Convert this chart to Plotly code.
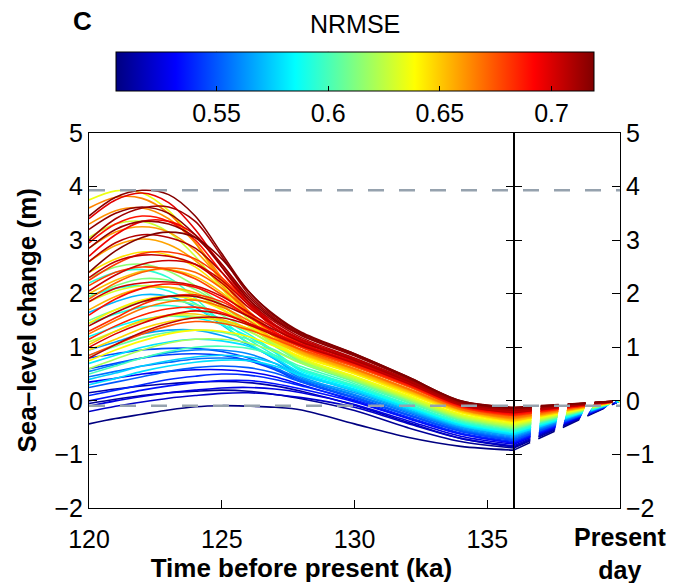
import plotly.graph_objects as go

# ---------------- data ----------------
KA = [120, 121, 122, 123, 124, 125, 126, 127, 128, 130, 132, 134, 136]
PRESENT_LEVEL = 0.0          # sea level at present day (reference)
NRMSE_RANGE = [0.505, 0.719]
NRMSE_TICKS = [0.55, 0.6, 0.65, 0.7]
Y_TICKS = [-2, -1, 0, 1, 2, 3, 4, 5]
X_TICKS = [120, 125, 130, 135]

darkred_nrmse = [0.718, 0.712, 0.715, 0.708, 0.705, 0.702, 0.710, 0.700, 0.716, 0.719, 0.706, 0.703]
darkred_curves = [
    [3.45, 3.80, 3.93, 3.85, 3.45, 2.75, 2.05, 1.60, 1.28, 0.88, 0.45, 0.00, -0.13],
    [3.00, 3.40, 3.60, 3.62, 3.35, 2.70, 2.00, 1.55, 1.24, 0.85, 0.43, -0.02, -0.15],
    [2.85, 3.20, 3.35, 3.30, 3.05, 2.55, 1.95, 1.52, 1.22, 0.84, 0.42, -0.02, -0.14],
    [2.60, 2.95, 3.10, 3.05, 2.85, 2.40, 1.85, 1.47, 1.18, 0.80, 0.40, -0.04, -0.17],
    [2.30, 2.60, 2.72, 2.70, 2.55, 2.20, 1.75, 1.40, 1.14, 0.78, 0.38, -0.05, -0.19],
    [1.85, 2.10, 2.20, 2.22, 2.15, 1.95, 1.65, 1.35, 1.10, 0.75, 0.36, -0.06, -0.20],
    [1.40, 1.65, 1.85, 1.95, 1.95, 1.80, 1.58, 1.32, 1.10, 0.76, 0.37, -0.05, -0.18],
    [1.00, 1.25, 1.45, 1.60, 1.68, 1.62, 1.45, 1.25, 1.05, 0.72, 0.35, -0.07, -0.21],
    [3.20, 3.50, 3.62, 3.50, 3.10, 2.50, 1.90, 1.50, 1.22, 0.86, 0.44, -0.01, -0.14],
    [2.40, 2.80, 3.05, 3.15, 3.05, 2.65, 2.05, 1.58, 1.26, 0.88, 0.45, 0.00, -0.12],
    [0.80, 1.05, 1.28, 1.45, 1.55, 1.55, 1.42, 1.22, 1.03, 0.70, 0.33, -0.08, -0.22],
    [2.05, 2.35, 2.55, 2.62, 2.55, 2.25, 1.80, 1.42, 1.15, 0.78, 0.38, -0.05, -0.19],
]

red_nrmse = [0.695, 0.690, 0.685, 0.680, 0.675, 0.672, 0.698, 0.688, 0.683, 0.678]
red_curves = [
    [2.70, 3.10, 3.35, 3.35, 3.10, 2.55, 1.90, 1.42, 1.12, 0.74, 0.35, -0.07, -0.22],
    [1.60, 1.90, 2.10, 2.18, 2.12, 1.90, 1.58, 1.28, 1.05, 0.70, 0.32, -0.09, -0.24],
    [1.15, 1.40, 1.60, 1.72, 1.75, 1.65, 1.45, 1.22, 1.00, 0.67, 0.30, -0.10, -0.26],
    [2.25, 2.55, 2.75, 2.78, 2.65, 2.30, 1.80, 1.35, 1.05, 0.68, 0.30, -0.11, -0.27],
    [0.85, 1.05, 1.25, 1.40, 1.48, 1.45, 1.33, 1.15, 0.96, 0.64, 0.28, -0.12, -0.28],
    [1.90, 2.20, 2.40, 2.48, 2.40, 2.10, 1.68, 1.28, 1.00, 0.64, 0.27, -0.13, -0.29],
    [3.40, 3.75, 3.88, 3.70, 3.20, 2.50, 1.85, 1.40, 1.12, 0.75, 0.36, -0.06, -0.21],
    [2.95, 3.30, 3.45, 3.35, 3.00, 2.40, 1.80, 1.36, 1.08, 0.71, 0.33, -0.09, -0.24],
    [1.30, 1.55, 1.80, 1.95, 1.98, 1.85, 1.58, 1.28, 1.02, 0.67, 0.29, -0.11, -0.26],
    [2.15, 2.40, 2.50, 2.45, 2.28, 1.98, 1.62, 1.28, 1.02, 0.66, 0.29, -0.12, -0.27],
]

orange_nrmse = [0.665, 0.660, 0.655, 0.650, 0.645, 0.640, 0.668, 0.662, 0.652, 0.642, 0.648, 0.658]
orange_curves = [
    [3.60, 3.80, 3.78, 3.50, 2.95, 2.25, 1.65, 1.22, 0.95, 0.60, 0.23, -0.15, -0.32],
    [2.85, 3.15, 3.25, 3.15, 2.80, 2.25, 1.65, 1.22, 0.94, 0.59, 0.22, -0.16, -0.33],
    [1.70, 1.95, 2.10, 2.12, 2.02, 1.78, 1.45, 1.15, 0.90, 0.56, 0.20, -0.17, -0.35],
    [1.05, 1.30, 1.50, 1.60, 1.62, 1.52, 1.35, 1.10, 0.88, 0.54, 0.18, -0.19, -0.37],
    [2.40, 2.65, 2.78, 2.72, 2.50, 2.10, 1.62, 1.18, 0.88, 0.53, 0.16, -0.20, -0.38],
    [0.75, 0.95, 1.12, 1.25, 1.32, 1.30, 1.20, 1.02, 0.82, 0.50, 0.13, -0.22, -0.40],
    [1.25, 1.50, 1.72, 1.85, 1.88, 1.75, 1.50, 1.20, 0.95, 0.60, 0.23, -0.15, -0.31],
    [3.30, 3.55, 3.60, 3.40, 2.95, 2.30, 1.68, 1.23, 0.95, 0.60, 0.22, -0.16, -0.33],
    [2.00, 2.25, 2.42, 2.45, 2.32, 2.02, 1.60, 1.20, 0.90, 0.55, 0.19, -0.18, -0.36],
    [1.45, 1.70, 1.88, 1.95, 1.90, 1.70, 1.42, 1.12, 0.85, 0.51, 0.15, -0.21, -0.39],
    [0.95, 1.15, 1.35, 1.48, 1.55, 1.50, 1.35, 1.12, 0.88, 0.54, 0.17, -0.19, -0.37],
    [2.60, 2.90, 3.02, 2.92, 2.62, 2.15, 1.62, 1.20, 0.92, 0.58, 0.21, -0.16, -0.34],
]

green_nrmse = [0.635, 0.630, 0.625, 0.620, 0.615, 0.610, 0.605, 0.600, 0.628, 0.612]
green_curves = [
    [3.75, 3.92, 3.88, 3.55, 2.95, 2.20, 1.58, 1.12, 0.80, 0.46, 0.10, -0.25, -0.42],
    [1.85, 2.05, 2.15, 2.12, 1.98, 1.72, 1.40, 1.08, 0.78, 0.44, 0.08, -0.27, -0.44],
    [1.10, 1.30, 1.48, 1.58, 1.58, 1.48, 1.30, 1.05, 0.76, 0.42, 0.06, -0.29, -0.46],
    [0.60, 0.78, 0.95, 1.08, 1.15, 1.15, 1.08, 0.92, 0.70, 0.39, 0.04, -0.31, -0.48],
    [2.30, 2.50, 2.55, 2.42, 2.15, 1.80, 1.42, 1.05, 0.74, 0.40, 0.04, -0.31, -0.49],
    [1.50, 1.70, 1.85, 1.88, 1.80, 1.60, 1.32, 1.02, 0.72, 0.37, 0.01, -0.34, -0.51],
    [0.85, 1.02, 1.18, 1.28, 1.32, 1.28, 1.15, 0.95, 0.70, 0.35, -0.01, -0.35, -0.52],
    [0.50, 0.65, 0.80, 0.92, 1.00, 1.02, 0.98, 0.85, 0.64, 0.32, -0.03, -0.37, -0.54],
    [3.05, 3.30, 3.35, 3.15, 2.70, 2.10, 1.52, 1.10, 0.78, 0.44, 0.08, -0.27, -0.44],
    [1.95, 2.15, 2.28, 2.25, 2.08, 1.78, 1.42, 1.05, 0.74, 0.38, 0.02, -0.33, -0.50],
]

cyan_nrmse = [0.595, 0.590, 0.585, 0.580, 0.575, 0.570, 0.565, 0.560, 0.592, 0.578]
cyan_curves = [
    [2.20, 2.40, 2.45, 2.30, 1.92, 1.45, 1.08, 0.82, 0.60, 0.29, -0.06, -0.39, -0.56],
    [1.95, 2.10, 2.15, 2.05, 1.82, 1.50, 1.15, 0.85, 0.58, 0.27, -0.08, -0.41, -0.58],
    [1.20, 1.38, 1.52, 1.58, 1.55, 1.42, 1.20, 0.90, 0.55, 0.25, -0.10, -0.42, -0.59],
    [0.70, 0.85, 1.00, 1.10, 1.15, 1.12, 1.02, 0.80, 0.52, 0.22, -0.12, -0.44, -0.61],
    [0.40, 0.52, 0.65, 0.75, 0.82, 0.85, 0.82, 0.70, 0.48, 0.20, -0.14, -0.46, -0.63],
    [1.65, 1.85, 1.98, 1.95, 1.75, 1.42, 1.08, 0.78, 0.50, 0.18, -0.16, -0.47, -0.64],
    [0.95, 1.10, 1.25, 1.32, 1.32, 1.22, 1.05, 0.78, 0.45, 0.15, -0.18, -0.49, -0.66],
    [0.55, 0.68, 0.80, 0.90, 0.95, 0.95, 0.88, 0.70, 0.42, 0.12, -0.20, -0.51, -0.68],
    [1.45, 1.62, 1.75, 1.78, 1.70, 1.52, 1.25, 0.92, 0.58, 0.27, -0.08, -0.40, -0.57],
    [0.30, 0.42, 0.55, 0.65, 0.72, 0.76, 0.75, 0.65, 0.47, 0.20, -0.13, -0.45, -0.62],
]

blue_nrmse = [0.555, 0.550, 0.545, 0.540, 0.535, 0.530, 0.525, 0.520, 0.515, 0.510, 0.505, 0.548]
blue_curves = [
    [0.45, 0.55, 0.65, 0.72, 0.78, 0.80, 0.76, 0.62, 0.40, 0.10, -0.22, -0.53, -0.70],
    [0.25, 0.35, 0.45, 0.55, 0.62, 0.65, 0.62, 0.52, 0.35, 0.07, -0.25, -0.55, -0.72],
    [0.60, 0.70, 0.80, 0.86, 0.88, 0.85, 0.75, 0.58, 0.35, 0.05, -0.27, -0.57, -0.74],
    [0.10, 0.20, 0.30, 0.40, 0.46, 0.50, 0.48, 0.40, 0.28, 0.02, -0.30, -0.60, -0.76],
    [0.00, 0.10, 0.20, 0.28, 0.34, 0.38, 0.38, 0.32, 0.22, -0.02, -0.33, -0.62, -0.78],
    [0.35, 0.42, 0.50, 0.55, 0.58, 0.58, 0.54, 0.45, 0.30, 0.00, -0.32, -0.62, -0.79],
    [-0.10, 0.00, 0.08, 0.15, 0.20, 0.24, 0.25, 0.22, 0.15, -0.07, -0.37, -0.66, -0.81],
    [-0.20, -0.10, -0.02, 0.05, 0.10, 0.14, 0.15, 0.12, 0.06, -0.12, -0.42, -0.70, -0.84],
    [0.15, 0.22, 0.28, 0.32, 0.35, 0.36, 0.34, 0.28, 0.18, -0.08, -0.40, -0.70, -0.86],
    [-0.05, 0.03, 0.10, 0.15, 0.18, 0.20, 0.18, 0.12, 0.04, -0.18, -0.50, -0.76, -0.88],
    [-0.43, -0.33, -0.25, -0.17, -0.11, -0.09, -0.10, -0.12, -0.17, -0.43, -0.68, -0.85, -0.92],
    [0.80, 0.88, 0.95, 0.98, 0.98, 0.92, 0.80, 0.60, 0.38, 0.06, -0.26, -0.56, -0.73],
]

# ---------------- styling helpers ----------------
FONT = "Liberation Sans, Arial, Helvetica, sans-serif"
PRESENT_X = 140      # axis position used for the "Present day" column
W, H = 675, 583
ML, MR, MT, MB = 89, 55, 133, 71
PLOT_W, PLOT_H = W - ML - MR, H - MT - MB
CB_CENTER_PX, CB_LEN_PX, CB_THICK_PX, CB_TOP_PX = 355, 478, 39, 51


def jet(t):
    t = min(max(t, 0.0), 1.0)
    c = lambda v: min(max(v, 0.0), 1.0)
    r = c(1.5 - abs(4 * t - 3))
    g = c(1.5 - abs(4 * t - 2))
    b = c(1.5 - abs(4 * t - 1))
    return "rgb(%d,%d,%d)" % (round(r * 255), round(g * 255), round(b * 255))


JET_SCALE = [[s, jet(s)] for s in [0, 0.125, 0.375, 0.5, 0.625, 0.875, 1]]

all_nrmse = darkred_nrmse + red_nrmse + orange_nrmse + green_nrmse + cyan_nrmse + blue_nrmse
all_curves = darkred_curves + red_curves + orange_curves + green_curves + cyan_curves + blue_curves
order = sorted(range(len(all_nrmse)), key=lambda i: all_nrmse[i])

fig = go.Figure()

for i in order:
    t = (all_nrmse[i] - NRMSE_RANGE[0]) / (NRMSE_RANGE[1] - NRMSE_RANGE[0])
    col = jet(t)
    y = all_curves[i]
    fig.add_trace(go.Scatter(x=KA, y=y, mode="lines",
                             line=dict(color=col, width=1.6, shape="spline", smoothing=0.9),
                             hoverinfo="skip", xaxis="x", yaxis="y"))
    fig.add_trace(go.Scatter(x=[KA[-1], PRESENT_X], y=[y[-1], PRESENT_LEVEL], mode="lines",
                             line=dict(color=col, width=1.6, dash="18px,9px"),
                             hoverinfo="skip", xaxis="x2", yaxis="y2"))

# invisible markers carrying the colour scale (for the colorbar)
fig.add_trace(go.Scatter(x=[c[0] for c in all_curves], y=[c[0] for c in all_curves], mode="markers",
                         marker=dict(color=all_nrmse, coloraxis="coloraxis", size=1, opacity=0),
                         hoverinfo="skip", xaxis="x", yaxis="y"))

# reference lines: highest peak and lowest peak of the ensemble
top_peak = max(max(c) for c in all_curves)
low_peak = min(max(c) for c in all_curves)
for yv in (top_peak, low_peak):
    fig.add_shape(type="line", xref="paper", yref="y", x0=0, x1=1, y0=yv, y1=yv,
                  line=dict(color="rgb(150,162,174)", width=2.4, dash="16px,15px"), layer="above")

# colorbar geometry in paper units
cb_x = (CB_CENTER_PX - ML) / PLOT_W
cb_top = (H - MB - CB_TOP_PX) / PLOT_H
cb_left_px = CB_CENTER_PX - CB_LEN_PX / 2
# small tick marks along the top edge of the colorbar (mirrored ticks)
for v in NRMSE_TICKS:
    px = cb_left_px + (v - NRMSE_RANGE[0]) / (NRMSE_RANGE[1] - NRMSE_RANGE[0]) * CB_LEN_PX
    xp = (px - ML) / PLOT_W
    fig.add_shape(type="line", xref="paper", yref="paper", x0=xp, x1=xp,
                  y0=cb_top, y1=cb_top - 5 / PLOT_H, line=dict(color="black", width=1))

axis_common = dict(showgrid=False, zeroline=False, showline=True, linecolor="black", linewidth=1,
                   tickcolor="black", ticklen=8, tickwidth=1)

fig.update_layout(
    width=W, height=H,
    margin=dict(l=ML, r=MR, t=MT, b=MB),
    paper_bgcolor="white", plot_bgcolor="white",
    showlegend=False,
    font=dict(family=FONT, size=25, color="black"),
    xaxis=dict(domain=[0, 0.8], range=[KA[0], KA[-1]], tickvals=X_TICKS, ticks="inside",
               mirror=True, anchor="y", ticklabelstandoff=9,
               title=dict(text="<b>Time before present (ka)</b>", font=dict(size=26), standoff=0),
               **axis_common),
    yaxis=dict(domain=[0, 1], range=[Y_TICKS[0], Y_TICKS[-1]], tickvals=Y_TICKS, ticks="inside",
               mirror="ticks", anchor="x", **axis_common),
    xaxis2=dict(domain=[0.8, 1], range=[KA[-1], PRESENT_X], showticklabels=False, ticks="",
                mirror=True, anchor="y2", **axis_common),
    yaxis2=dict(domain=[0, 1], range=[Y_TICKS[0], Y_TICKS[-1]], tickvals=Y_TICKS, ticks="inside",
                side="right", mirror="ticks", anchor="x2", **axis_common),
    coloraxis=dict(cmin=NRMSE_RANGE[0], cmax=NRMSE_RANGE[1], colorscale=JET_SCALE,
                   colorbar=dict(orientation="h", xref="paper", yref="paper",
                                 x=cb_x, xanchor="center", y=cb_top, yanchor="top",
                                 lenmode="pixels", len=CB_LEN_PX, thickness=CB_THICK_PX,
                                 xpad=0, ypad=0, outlinewidth=1, outlinecolor="black",
                                 tickvals=NRMSE_TICKS, ticktext=["0.55", "0.6", "0.65", "0.7"],
                                 ticks="inside", ticklen=5, tickcolor="black",
                                 tickfont=dict(size=25))),
    annotations=[
        dict(text="<b>C</b>", xref="paper", yref="paper", x=-0.0113, y=1.298,
             xanchor="center", yanchor="middle", showarrow=False, font=dict(size=26)),
        dict(text="NRMSE", xref="paper", yref="paper", x=cb_x, y=1.29,
             xanchor="center", yanchor="middle", showarrow=False, font=dict(size=25)),
        dict(text="<b>Sea\u2013level change (m)</b>", xref="paper", yref="paper", x=-0.1168, y=0.5,
             xanchor="center", yanchor="middle", textangle=-90, showarrow=False, font=dict(size=26)),
        dict(text="<b>Present</b><br><b>day</b>", xref="paper", yref="paper", x=1.0, y=-0.122,
             xanchor="center", yanchor="middle", showarrow=False, font=dict(size=25)),
    ],
)

fig.write_html("out.html")
